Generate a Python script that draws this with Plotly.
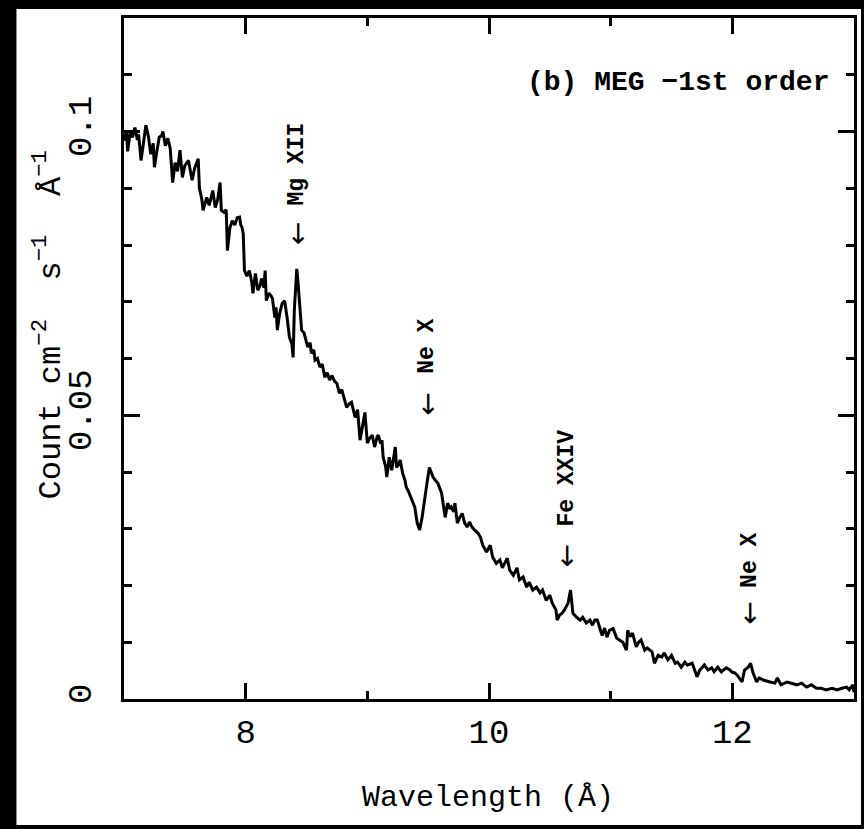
import plotly.graph_objects as go

# ---- data ----
wavelength = [
7.00,7.02,7.03,7.05,7.07,7.09,7.11,7.12,7.14,7.16,7.18,7.20,7.22,7.24,7.25,7.27,7.29,7.31,7.32,7.34,
7.36,7.38,7.40,7.42,7.44,7.46,7.48,7.50,7.53,7.55,7.56,7.58,7.60,7.61,7.62,7.64,7.65,7.67,7.68,7.70,
7.72,7.73,7.75,7.77,7.79,7.80,7.82,7.84,7.85,7.87,7.89,7.91,7.93,7.95,7.96,7.97,7.98,7.99,8.01,8.03,
8.05,8.06,8.08,8.10,8.12,8.13,8.15,8.16,8.17,8.19,8.21,8.22,8.24,8.25,8.26,8.28,8.30,8.32,8.34,8.36,
8.38,8.39,8.40,8.42,8.43,8.44,8.46,8.48,8.49,8.51,8.53,8.54,8.56,8.57,8.59,8.61,8.63,8.65,8.67,8.69,
8.71,8.73,8.75,8.77,8.79,8.81,8.83,8.85,8.87,8.89,8.90,8.92,8.94,8.96,8.98,9.00,9.02,9.04,9.06,9.08,
9.09,9.11,9.12,9.13,9.15,9.16,9.18,9.20,9.21,9.23,9.24,9.26,9.27,9.29,9.31,9.32,9.34,9.37,9.39,9.41,
9.43,9.45,9.46,9.49,9.51,9.54,9.56,9.58,9.61,9.62,9.64,9.66,9.68,9.69,9.71,9.72,9.74,9.76,9.78,9.80,
9.82,9.84,9.86,9.88,9.91,9.93,9.95,9.98,10.01,10.03,10.06,10.09,10.11,10.15,10.17,10.20,10.23,10.25,10.28,10.31,
10.33,10.36,10.39,10.42,10.44,10.47,10.50,10.52,10.55,10.56,10.58,10.60,10.62,10.65,10.67,10.69,10.72,10.75,10.77,10.80,
10.83,10.85,10.87,10.89,10.91,10.93,10.95,10.97,10.99,11.02,11.05,11.07,11.10,11.13,11.14,11.16,11.18,11.21,11.23,11.25,
11.28,11.30,11.34,11.36,11.39,11.42,11.44,11.47,11.50,11.53,11.55,11.58,11.61,11.63,11.67,11.69,11.71,11.73,11.75,11.77,
11.80,11.83,11.85,11.88,11.91,11.95,11.98,12.00,12.02,12.04,12.08,12.10,12.13,12.15,12.17,12.20,12.22,12.26,12.31,12.35,
12.37,12.40,12.45,12.49,12.53,12.57,12.61,12.65,12.69,12.73,12.77,12.82,12.86,12.90,12.94,12.96,12.99,13.00]

flux = [
0.0984,0.1000,0.0965,0.0998,0.0990,0.1007,0.0985,0.0995,0.0949,0.0985,0.1011,0.0992,0.0960,0.0979,0.0937,0.0965,0.0990,0.0993,0.1000,0.0975,
0.0988,0.0970,0.0910,0.0945,0.0930,0.0967,0.0919,0.0940,0.0949,0.0925,0.0914,0.0935,0.0945,0.0952,0.0900,0.0880,0.0861,0.0875,0.0884,0.0870,
0.0888,0.0896,0.0866,0.0880,0.0910,0.0861,0.0858,0.0862,0.0790,0.0830,0.0843,0.0835,0.0848,0.0849,0.0835,0.0831,0.0820,0.0755,0.0745,0.0755,
0.0735,0.0715,0.0750,0.0720,0.0730,0.0741,0.0725,0.0755,0.0702,0.0715,0.0710,0.0706,0.0672,0.0690,0.0650,0.0680,0.0697,0.0702,0.0673,0.0637,
0.0625,0.0602,0.0685,0.0758,0.0735,0.0708,0.0650,0.0645,0.0637,0.0620,0.0628,0.0609,0.0615,0.0597,0.0600,0.0585,0.0590,0.0567,0.0575,0.0562,
0.0570,0.0560,0.0556,0.0539,0.0545,0.0530,0.0514,0.0520,0.0523,0.0505,0.0496,0.0510,0.0456,0.0480,0.0505,0.0451,0.0460,0.0465,0.0444,0.0462,
0.0465,0.0450,0.0456,0.0426,0.0410,0.0391,0.0426,0.0403,0.0420,0.0444,0.0408,0.0415,0.0421,0.0398,0.0385,0.0373,0.0365,0.0350,0.0338,0.0310,
0.0298,0.0320,0.0333,0.0380,0.0408,0.0391,0.0385,0.0380,0.0363,0.0350,0.0320,0.0345,0.0335,0.0338,0.0330,0.0345,0.0310,0.0320,0.0327,0.0310,
0.0303,0.0312,0.0303,0.0298,0.0292,0.0285,0.0270,0.0259,0.0271,0.0250,0.0239,0.0245,0.0231,0.0248,0.0227,0.0218,0.0231,0.0210,0.0215,0.0197,
0.0206,0.0192,0.0197,0.0187,0.0192,0.0174,0.0183,0.0169,0.0157,0.0139,0.0148,0.0151,0.0157,0.0169,0.0192,0.0151,0.0144,0.0139,0.0144,0.0134,
0.0139,0.0130,0.0139,0.0139,0.0125,0.0112,0.0125,0.0109,0.0121,0.0124,0.0107,0.0104,0.0100,0.0086,0.0121,0.0110,0.0116,0.0092,0.0100,0.0104,
0.0086,0.0090,0.0083,0.0063,0.0077,0.0074,0.0081,0.0069,0.0077,0.0063,0.0065,0.0056,0.0065,0.0060,0.0063,0.0051,0.0039,0.0050,0.0056,0.0060,
0.0051,0.0055,0.0048,0.0056,0.0048,0.0055,0.0051,0.0047,0.0046,0.0042,0.0030,0.0051,0.0056,0.0063,0.0046,0.0030,0.0037,0.0033,0.0030,0.0028,
0.0037,0.0025,0.0030,0.0028,0.0025,0.0028,0.0021,0.0025,0.0019,0.0019,0.0016,0.0019,0.0016,0.0019,0.0021,0.0016,0.0025,0.0012]

line_labels = ["Mg XII", "Ne X", "Fe XXIV", "Ne X"]
line_wave = [8.425, 9.489, 10.64, 12.14]
arrow_tip = [0.0796, 0.0496, 0.0229, 0.0127]
label_base = [0.0866, 0.0570, 0.0301, 0.0192]

x_ticks = [8, 10, 12]
y_tickvals = [0, 0.05, 0.1]
y_ticktext = ["0", "0.05", "0.1"]

MONO = "Liberation Mono"

fig = go.Figure()
fig.add_trace(go.Scatter(x=wavelength, y=flux, mode="lines",
                         line=dict(color="black", width=3), showlegend=False))

annotations = []
for lab, xw, tip, base in zip(line_labels, line_wave, arrow_tip, label_base):
    annotations.append(dict(x=xw, y=tip, xref="x", yref="y", text="←", textangle=-90,
                            showarrow=False, xanchor="center", yanchor="bottom",
                            font=dict(family="DejaVu Sans", size=28, color="black")))
    annotations.append(dict(x=xw, y=base, xref="x", yref="y", text="<b>%s</b>" % lab,
                            textangle=-90, showarrow=False, xanchor="center", yanchor="bottom",
                            font=dict(family=MONO, size=23, color="black")))

annotations.append(dict(x=0.969, y=0.906, xref="paper", yref="paper",
                        text="<b>(b) MEG −1st order</b>", showarrow=False,
                        xanchor="right", yanchor="middle",
                        font=dict(family=MONO, size=28, color="black")))
annotations.append(dict(x=0.4993, y=-0.146, xref="paper", yref="paper",
                        text="Wavelength (Å)", showarrow=False,
                        xanchor="center", yanchor="middle",
                        font=dict(family=MONO, size=30, color="black")))
annotations.append(dict(x=-0.1037, y=0.549, xref="paper", yref="paper",
                        text="Count cm<sup>−2</sup>  s<sup>−1</sup>  Å<sup>−1</sup>",
                        textangle=-90, showarrow=False,
                        xanchor="center", yanchor="middle",
                        font=dict(family=MONO, size=32, color="black")))

fig.update_layout(
    width=864, height=829,
    margin=dict(l=124, r=7, t=18, b=130),
    paper_bgcolor="black",
    plot_bgcolor="rgba(0,0,0,0)",
    showlegend=False,
    annotations=annotations,
    shapes=[dict(type="rect", xref="paper", yref="paper",
                 x0=-0.1473, x1=1.0096, y0=-0.185, y1=1.0132,
                 fillcolor="white", line=dict(width=0), layer="below")],
)

fig.update_xaxes(range=[7, 13], tickvals=x_ticks, ticks="inside", ticklen=16, tickwidth=2.5,
                 tickcolor="black", showline=True, linecolor="black", linewidth=3,
                 mirror="ticks", showgrid=False, zeroline=False,
                 tickfont=dict(family=MONO, size=34, color="black"),
                 ticklabelstandoff=0,
                 minor=dict(dtick=1, tick0=7, ticks="inside", ticklen=8, tickwidth=2.5,
                            tickcolor="black", showgrid=False))
fig.update_yaxes(range=[0, 0.12], tickvals=y_tickvals, ticktext=y_ticktext, ticks="inside",
                 ticklen=16, tickwidth=2.5, tickcolor="black", showline=True,
                 linecolor="black", linewidth=3, mirror="ticks", showgrid=False,
                 zeroline=False, tickangle=-90,
                 tickfont=dict(family=MONO, size=34, color="black"),
                 ticklabelstandoff=16,
                 minor=dict(dtick=0.01, tick0=0, ticks="inside", ticklen=8, tickwidth=2.5,
                            tickcolor="black", showgrid=False))

fig.write_html("out.html")
